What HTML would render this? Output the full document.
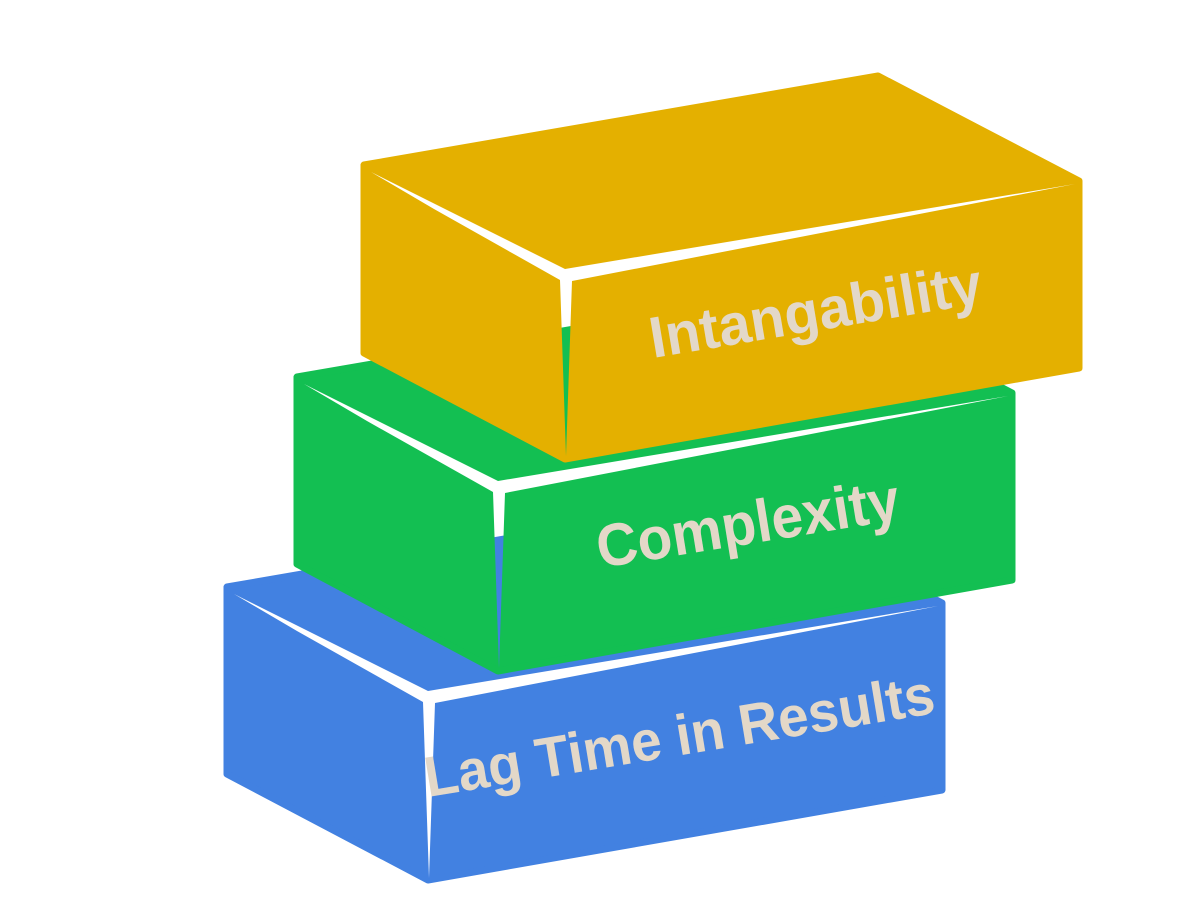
<!DOCTYPE html>
<html>
<head>
<meta charset="utf-8">
<style>
  html, body { margin: 0; padding: 0; background: #ffffff; }
  body { width: 1200px; height: 900px; overflow: hidden; }
  svg { display: block; }
  .lbl { font-family: "Liberation Sans", "DejaVu Sans", sans-serif; font-weight: bold; fill: #E3D8C8; }
</style>
</head>
<body>
<svg width="1200" height="900" viewBox="0 0 1200 900" xmlns="http://www.w3.org/2000/svg">
  <defs>
    <mask id="crease" maskUnits="userSpaceOnUse" x="-60" y="-160" width="900" height="520">
      <rect x="-60" y="-160" width="900" height="520" fill="#fff"/>
      <polygon points="7,7 201,104 711,19 208,116 202,291 196,115 70,44" fill="#000"/>
    </mask>
  </defs>

  <!-- Blue box -->
  <g transform="translate(227,587)">
    <path d="M0,0 L514,-89 L715,16 L715,203 L201,293 L0,187 Z" fill="#4281E1" stroke="#4281E1" stroke-width="7" stroke-linejoin="round" mask="url(#crease)"/>
  </g>

  <!-- Green box -->
  <g transform="translate(297,377)">
    <path d="M0,0 L514,-89 L715,16 L715,203 L201,294 L0,187 Z" fill="#13BF52" stroke="#13BF52" stroke-width="7" stroke-linejoin="round" mask="url(#crease)"/>
  </g>

  <!-- Yellow box -->
  <g transform="translate(364,165)">
    <path d="M0,0 L514,-89 L715,16 L715,203 L201,294 L0,188 Z" fill="#E4B000" stroke="#E4B000" stroke-width="7" stroke-linejoin="round" mask="url(#crease)"/>
  </g>

  <!-- Labels -->
  <text class="lbl" x="653" y="358" font-size="58" textLength="336" lengthAdjust="spacingAndGlyphs" transform="rotate(-9.5 653 358)">Intangability</text>
  <text class="lbl" x="600" y="568" font-size="60" textLength="306" lengthAdjust="spacingAndGlyphs" transform="rotate(-9.2 600 568)">Complexity</text>
  <text class="lbl" x="428" y="797" font-size="57" textLength="516" lengthAdjust="spacingAndGlyphs" transform="rotate(-9.4 428 797)">Lag Time in Results</text>
</svg>
</body>
</html>
